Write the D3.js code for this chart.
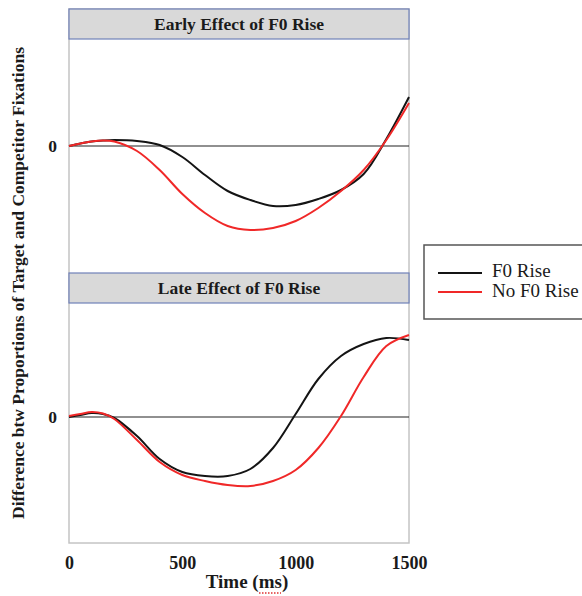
<!DOCTYPE html>
<html lang="en">
<head>
    <meta charset="utf-8">
    <title>F0 Rise fixation difference</title>
    <style type="text/css">
        body { margin: 0; background: #fff; }
        svg { display: block; font-family: "Liberation Serif", "Times New Roman", serif; }
    </style>
</head>
<body>
   <svg class="svg_f0" width="582" height="596"></svg>

   <script src="https://d3js.org/d3.v7.min.js"></script>
   <script>
        // time points (ms)
        var timeMs = [0, 50, 100, 150, 200, 300, 400, 500, 600, 700, 800, 900, 1000, 1100, 1200, 1300, 1400, 1500];

        // early panel
        var earlyF0Rise   = [0, 0.0025, 0.0045, 0.0055, 0.006, 0.005, 0.001, -0.011, -0.029, -0.045, -0.054, -0.060, -0.059, -0.053, -0.044, -0.028, 0.007, 0.049];
        var earlyNoF0Rise = [0, 0.0025, 0.0045, 0.0055, 0.0045, -0.005, -0.024, -0.048, -0.067, -0.080, -0.084, -0.082, -0.075, -0.062, -0.045, -0.024, 0.006, 0.043];

        // late panel
        var lateF0Rise    = [0, 0.002, 0.004, 0.003, -0.001, -0.019, -0.042, -0.055, -0.059, -0.059, -0.052, -0.031, 0.003, 0.038, 0.061, 0.073, 0.079, 0.077];
        var lateNoF0Rise  = [0.001, 0.003, 0.005, 0.0035, -0.002, -0.023, -0.045, -0.058, -0.064, -0.068, -0.069, -0.064, -0.053, -0.031, 0.001, 0.040, 0.071, 0.082];

        var xTicks = [0, 500, 1000, 1500];
        var yTicks = [0];
        var seriesNames = ['F0 Rise', 'No F0 Rise'];
        var panelTitles = ['Early Effect of F0 Rise', 'Late Effect of F0 Rise'];

        var svg = d3.select('.svg_f0');
        var left = 69, right = 409;
        var colors = ['#141414', '#f02828'];

        var panels = [
            {title: panelTitles[0], top: 9,   bottom: 273, domain: [-0.127, 0.107], series: [earlyF0Rise, earlyNoF0Rise]},
            {title: panelTitles[1], top: 273, bottom: 543, domain: [-0.126, 0.114], series: [lateF0Rise, lateNoF0Rise]}
        ];
        var stripH = 30;

        var x = d3.scaleLinear().domain([0, 1500]).range([left, right]);

        // outer frame
        svg.append('rect')
            .attr('x', left).attr('y', 9)
            .attr('width', right - left).attr('height', 543 - 9)
            .attr('fill', 'none')
            .attr('stroke', '#c4c4c4')
            .attr('stroke-width', 1.5);

        panels.forEach(function(p) {
            var y = d3.scaleLinear().domain(p.domain).range([p.bottom, p.top + stripH]);

            // strip
            svg.append('rect')
                .attr('x', left).attr('y', p.top)
                .attr('width', right - left).attr('height', stripH)
                .attr('fill', '#d9d9d9')
                .attr('stroke', '#6f80b8')
                .attr('stroke-width', 1.2);
            svg.append('text')
                .attr('x', (left + right) / 2)
                .attr('y', p.top + stripH / 2 + 6)
                .attr('text-anchor', 'middle')
                .attr('font-size', 17.5)
                .attr('font-weight', 'bold')
                .attr('fill', '#1a1a1a')
                .text(p.title);

            // zero line + label
            var yAxis = d3.axisLeft(y).tickValues(yTicks).tickSize(0).tickPadding(12).tickFormat(d3.format('d'));
            var ga = svg.append('g')
                .attr('transform', 'translate(' + left + ',0)')
                .call(yAxis);
            ga.select('.domain').remove();
            ga.selectAll('text')
                .attr('font-family', '"Liberation Serif", serif')
                .attr('font-size', 17.5)
                .attr('font-weight', 'bold')
                .attr('fill', '#1a1a1a');

            svg.append('line')
                .attr('x1', left).attr('x2', right)
                .attr('y1', y(0)).attr('y2', y(0))
                .attr('stroke', '#222')
                .attr('stroke-width', 1.1);

            var line = d3.line()
                .x(function(d, i) { return x(timeMs[i]); })
                .y(function(d) { return y(d); })
                .curve(d3.curveCatmullRom.alpha(0.5));

            p.series.forEach(function(s, k) {
                svg.append('path')
                    .datum(s)
                    .attr('d', line)
                    .attr('fill', 'none')
                    .attr('stroke', colors[k])
                    .attr('stroke-width', 2);
            });
        });

        // x axis labels
        var gx = svg.append('g')
            .attr('transform', 'translate(0,543)')
            .call(d3.axisBottom(x).tickValues(xTicks).tickSize(0).tickPadding(13).tickFormat(d3.format('d')));
        gx.select('.domain').remove();
        gx.selectAll('text')
            .attr('font-family', '"Liberation Serif", serif')
            .attr('font-size', 18)
            .attr('font-weight', 'bold')
            .attr('fill', '#1a1a1a');

        svg.append('text')
            .attr('x', 247).attr('y', 588)
            .attr('text-anchor', 'middle')
            .attr('font-size', 19)
            .attr('font-weight', 'bold')
            .attr('fill', '#1a1a1a')
            .text('Time (ms)');
        // spell-check squiggle under "ms"
        svg.append('line')
            .attr('x1', 259).attr('x2', 281)
            .attr('y1', 593).attr('y2', 593)
            .attr('stroke', '#e03030')
            .attr('stroke-width', 1.5)
            .attr('stroke-dasharray', '1.5,1.5');

        svg.append('text')
            .attr('transform', 'translate(24,283) rotate(-90)')
            .attr('text-anchor', 'middle')
            .attr('font-size', 17.5)
            .attr('font-weight', 'bold')
            .attr('fill', '#1a1a1a')
            .text('Difference btw Proportions of Target and Competitor Fixations');

        // legend
        var lg = svg.append('g').attr('transform', 'translate(424,245)');
        lg.append('rect')
            .attr('width', 170).attr('height', 74)
            .attr('fill', '#fff')
            .attr('stroke', '#555')
            .attr('stroke-width', 1.5);
        seriesNames.forEach(function(name, k) {
            lg.append('line')
                .attr('x1', 14).attr('x2', 58)
                .attr('y1', 28 + k * 19).attr('y2', 28 + k * 19)
                .attr('stroke', colors[k])
                .attr('stroke-width', 2);
            lg.append('text')
                .attr('x', 68).attr('y', 32 + k * 20)
                .attr('font-size', 19)
                .attr('fill', '#1a1a1a')
                .text(name);
        });
   </script>
</body>
</html>
